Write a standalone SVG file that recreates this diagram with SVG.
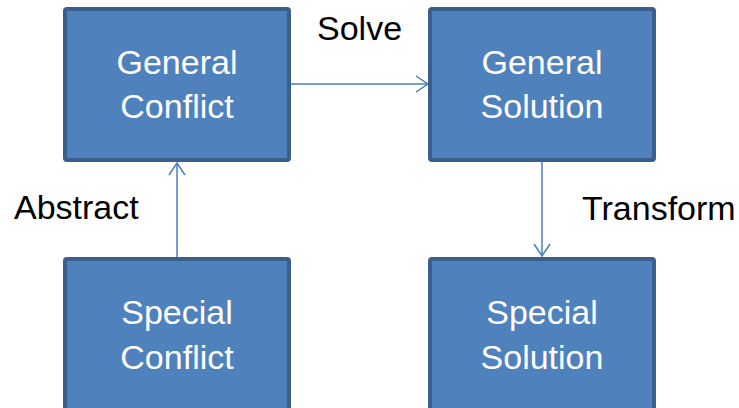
<svg xmlns="http://www.w3.org/2000/svg" width="739" height="408" viewBox="0 0 739 408">
  <style>
    .box { fill: #4F81BD; stroke: #3A5F8C; stroke-width: 4; }
    .node-text { font-family: "Liberation Sans", Arial, sans-serif; font-size: 34px; fill: #FFFFFF; text-anchor: middle; }
    .label { font-family: "Liberation Sans", Arial, sans-serif; font-size: 34px; fill: #000000; }
    .edge { stroke: #4A7EBB; stroke-width: 1.5; fill: none; }
  </style>
  <defs>
    <marker id="open-arrow" viewBox="0 0 14 18" refX="13" refY="9" markerWidth="14" markerHeight="18" markerUnits="userSpaceOnUse" orient="auto">
      <path d="M1,1 L13,9 L1,17" fill="none" stroke="#4A7EBB" stroke-width="1.5"/>
    </marker>
  </defs>
  <rect width="739" height="408" fill="#FFFFFF"/>

  <g id="connectors">
    <line class="edge" x1="291" y1="84" x2="428" y2="84" marker-end="url(#open-arrow)"/>
    <line class="edge" x1="177" y1="257" x2="177" y2="163" marker-end="url(#open-arrow)"/>
    <line class="edge" x1="542" y1="161" x2="542" y2="256" marker-end="url(#open-arrow)"/>
  </g>

  <g id="general-conflict">
    <rect class="box" x="65" y="9" width="224" height="151" rx="2"/>
    <text class="node-text" x="177" y="74">General</text>
    <text class="node-text" x="177" y="118">Conflict</text>
  </g>

  <g id="general-solution">
    <rect class="box" x="430" y="9" width="224" height="151" rx="2"/>
    <text class="node-text" x="542" y="74">General</text>
    <text class="node-text" x="542" y="118">Solution</text>
  </g>

  <g id="special-conflict">
    <rect class="box" x="65" y="259" width="224" height="160" rx="2"/>
    <text class="node-text" x="177" y="324">Special</text>
    <text class="node-text" x="177" y="369">Conflict</text>
  </g>

  <g id="special-solution">
    <rect class="box" x="430" y="259" width="224" height="160" rx="2"/>
    <text class="node-text" x="542" y="324">Special</text>
    <text class="node-text" x="542" y="369">Solution</text>
  </g>

  <g id="edge-labels">
    <text class="label" x="317" y="40">Solve</text>
    <text class="label" x="14" y="219">Abstract</text>
    <text class="label" x="582" y="220">Transform</text>
  </g>
</svg>
